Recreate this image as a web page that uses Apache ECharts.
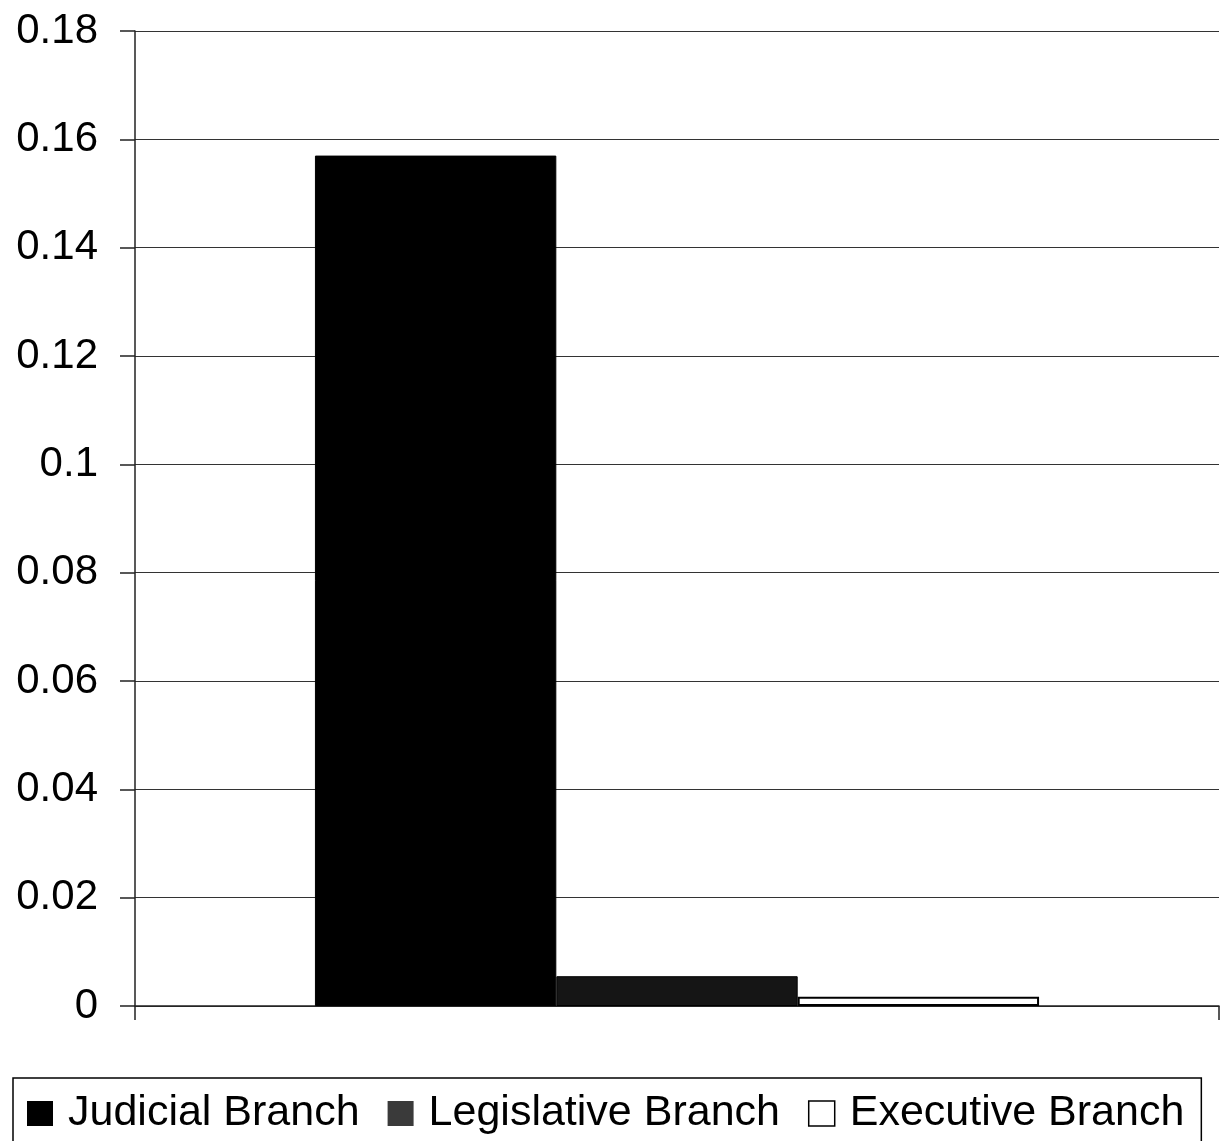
<!DOCTYPE html>
<html>
<head>
<meta charset="utf-8">
<script src="https://cdn.jsdelivr.net/npm/echarts@6/dist/echarts.min.js"></script>
<style>
  html, body { margin: 0; padding: 0; background: #fff; }
  #chart { width: 1220px; height: 1141px; }
</style>
</head>
<body>
<div id="chart"></div>
<script>
// Share of items by branch of government
const categories = [''];
const seriesNames = ['Judicial Branch', 'Legislative Branch', 'Executive Branch'];
const judicialValues = [0.157];
const legislativeValues = [0.0055];
const executiveValues = [0.0017];
const yTicks = { min: 0, max: 0.18, interval: 0.02 };

const font = '"Liberation Sans", Arial, sans-serif';
const chart = echarts.init(document.getElementById('chart'), null, { renderer: 'canvas' });

chart.setOption({
  backgroundColor: '#ffffff',
  animation: false,
  grid: { left: 135, right: 1, top: 31, bottom: 135 },
  legend: {
    left: 13,
    top: 1078,
    orient: 'horizontal',
    icon: 'rect',
    padding: [14, 17, 30, 14],
    itemWidth: 26,
    itemHeight: 25,
    itemGap: 28,
    borderColor: '#000',
    borderWidth: 1.5,
    textStyle: { fontFamily: font, fontSize: 43, color: '#000', padding: [0, 0, 0, 10] },
    data: [
      { name: seriesNames[0], itemStyle: { color: '#000', borderWidth: 0 } },
      { name: seriesNames[1], itemStyle: { color: '#3a3a3a', borderWidth: 0 } },
      { name: seriesNames[2], itemStyle: { color: '#fff', borderColor: '#000', borderWidth: 1.5 } }
    ]
  },
  xAxis: {
    type: 'category',
    data: categories,
    boundaryGap: true,
    axisLine: { show: true, lineStyle: { color: '#222', width: 1.5 } },
    axisTick: { show: true, length: 14, inside: false, lineStyle: { color: '#222', width: 1.5 } },
    axisLabel: { show: false },
    splitLine: { show: false }
  },
  yAxis: {
    type: 'value',
    min: yTicks.min,
    max: yTicks.max,
    interval: yTicks.interval,
    axisLine: { show: true, lineStyle: { color: '#222', width: 1.5 } },
    axisTick: { show: true, length: 15, lineStyle: { color: '#222', width: 1.5 } },
    axisLabel: {
      margin: 37,
      fontFamily: font,
      fontSize: 42,
      color: '#000',
      formatter: v => String(Math.round(v * 100) / 100)
    },
    splitLine: { show: true, lineStyle: { color: '#333', width: 1.2 } }
  },
  series: [
    {
      name: seriesNames[0],
      type: 'bar',
      data: judicialValues,
      barGap: '0%',
      barCategoryGap: '33.2%',
      itemStyle: { color: '#000', borderColor: '#000', borderWidth: 1 }
    },
    {
      name: seriesNames[1],
      type: 'bar',
      data: legislativeValues,
      itemStyle: { color: '#151515', borderColor: '#000', borderWidth: 1 }
    },
    {
      name: seriesNames[2],
      type: 'bar',
      data: executiveValues,
      itemStyle: { color: '#fff', borderColor: '#000', borderWidth: 2 }
    }
  ]
});
</script>
</body>
</html>
